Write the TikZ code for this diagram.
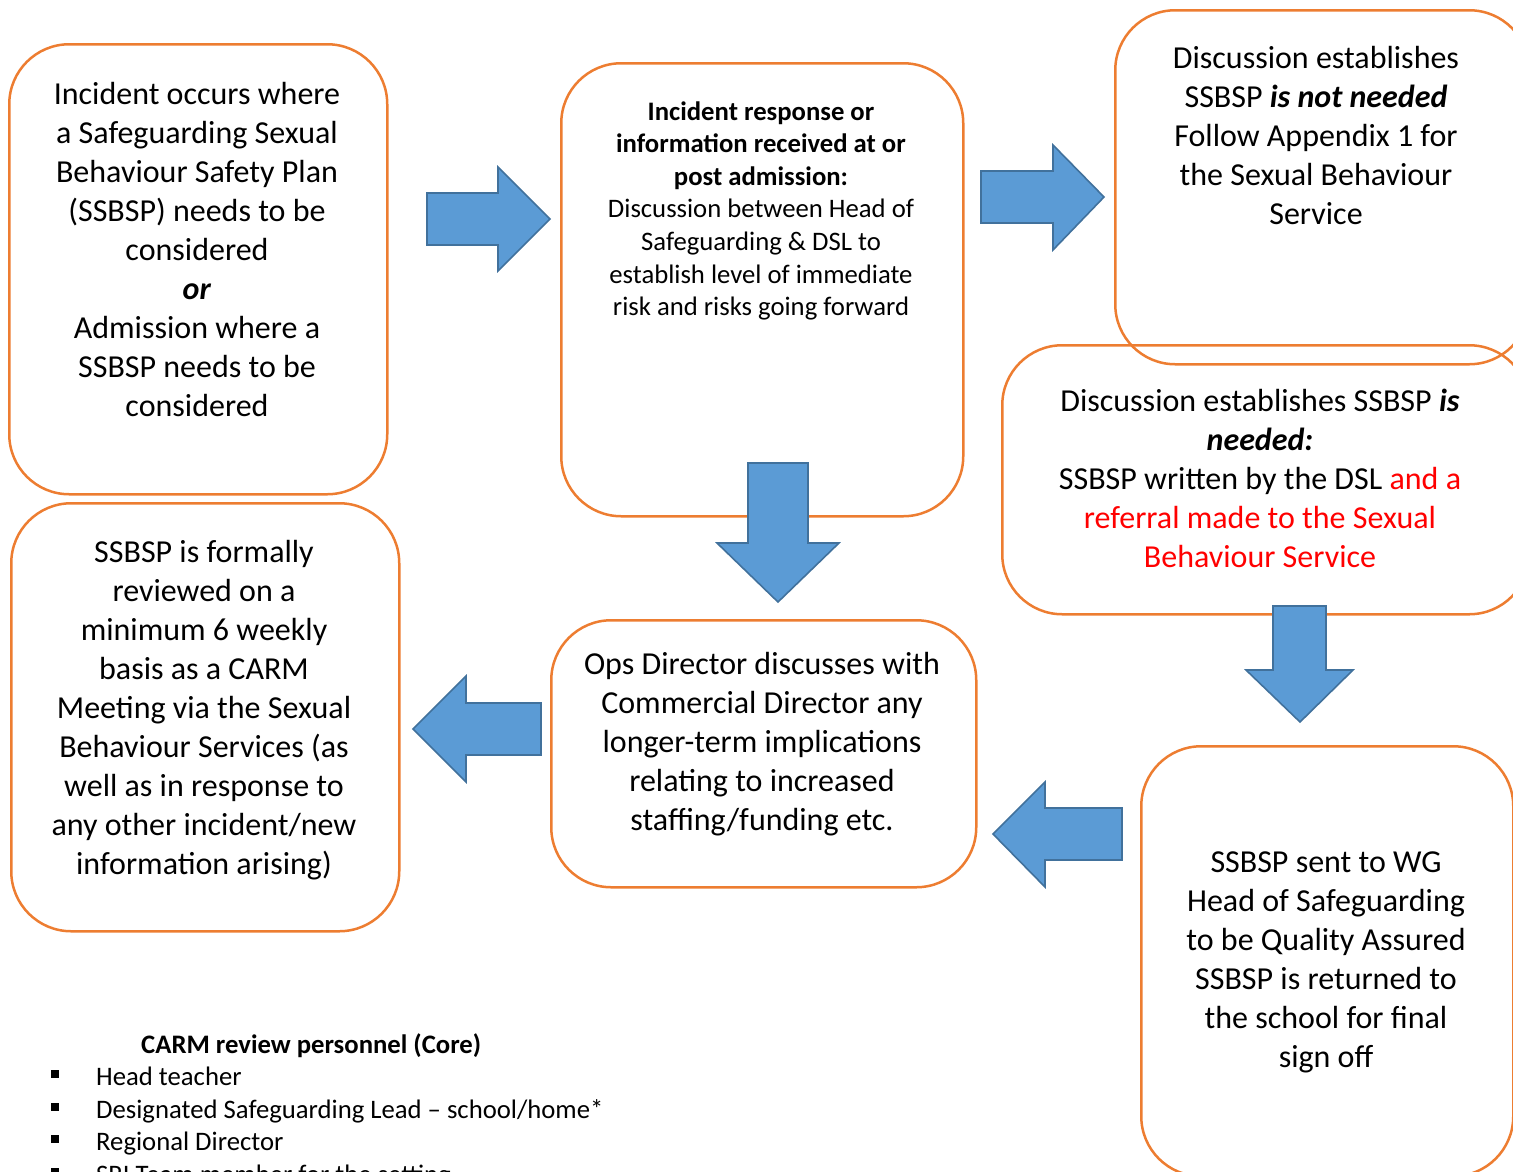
\documentclass[tikz,border=0pt]{standalone}
\usepackage{fontspec}
\setmainfont{Carlito}
\usetikzlibrary{positioning}

\definecolor{stageorange}{HTML}{ED7D31}
\definecolor{flowfill}{HTML}{5B9BD5}
\definecolor{flowline}{HTML}{41719C}

\tikzset{
  stage/.style={draw=stageorange, line width=2.5pt, rounded corners=60pt,
                inner sep=0pt, anchor=north west},
  bigtext/.style={align=center, inner sep=0pt, anchor=north,
                  font=\fontsize{32}{39}\selectfont, execute at begin node=\strut},
  smalltext/.style={align=center, inner sep=0pt, anchor=north,
                    font=\fontsize{26.7}{32.6}\selectfont, execute at begin node=\strut},
  flowarrow/.style={draw=flowline, fill=flowfill, line width=1.6pt, line join=miter},
}

\begin{document}
\begin{tikzpicture}[x=1pt, y=-1pt]
  \useasboundingbox (0,0) rectangle (1513,1171);

  % stages
  \node[stage, minimum width=378, minimum height=450] (incident) at (8,43) {};
  \node[stage, minimum width=402, minimum height=453] (response) at (560,62) {};
  \node[stage, minimum width=414, minimum height=354] (notneeded) at (1114,9) {};
  \node[stage, minimum width=527, minimum height=269] (needed) at (1001,344) {};
  \node[stage, minimum width=388, minimum height=428] (review) at (10,502) {};
  \node[stage, minimum width=425, minimum height=267] (opsdir) at (550,619) {};
  \node[stage, minimum width=372, minimum height=430] (signoff) at (1140,745) {};

  % texts
  \node[bigtext] (incidenttext) at (197,81.7) {Incident occurs where\\
    a Safeguarding Sexual\\ Behaviour Safety Plan\\ (SSBSP) needs to be\\
    considered\\ \textbf{\textit{or}}\\ Admission where a\\ SSBSP needs to be\\ considered};
  \node[smalltext] (responsetext) at (761,101.2) {\textbf{Incident response or}\\
    \textbf{information received at or}\\ \textbf{post admission:}\\
    Discussion between Head of\\ Safeguarding \& DSL to\\
    establish level of immediate\\ risk and risks going forward};
  \node[bigtext] (notneededtext) at (1316,46.2) {Discussion establishes\\
    SSBSP \textbf{\textit{is not needed}}\\ Follow Appendix 1 for\\
    the Sexual Behaviour\\ Service};
  \node[bigtext] (neededtext) at (1260,389.2) {Discussion establishes SSBSP \textbf{\textit{is}}\\
    \textbf{\textit{needed:}}\\ SSBSP written by the DSL \textcolor{red}{and a}\\
    \textcolor{red}{referral made to the Sexual}\\ \textcolor{red}{Behaviour Service}};
  \node[bigtext] (reviewtext) at (204,540.2) {SSBSP is formally\\ reviewed on a\\
    minimum 6 weekly\\ basis as a CARM\\ Meeting via the Sexual\\
    Behaviour Services (as\\ well as in response to\\ any other incident/new\\
    information arising)};
  \node[bigtext] (opsdirtext) at (762,652.2) {Ops Director discusses with\\
    Commercial Director any\\ longer-term implications\\ relating to increased\\
    staffing/funding etc.};
  \node[bigtext] (signofftext) at (1326,851.7) {SSBSP sent to WG\\
    Head of Safeguarding\\ to be Quality Assured\\ SSBSP is returned to\\
    the school for final\\ sign off};

  % block arrows
  \draw[flowarrow] (427,193) -- (498,193) -- (498,167) -- (550,219)
    -- (498,271) -- (498,245) -- (427,245) -- cycle;
  \draw[flowarrow] (981,171) -- (1053,171) -- (1053,145) -- (1104,197)
    -- (1053,250) -- (1053,223) -- (981,223) -- cycle;
  \draw[flowarrow] (748,463) -- (748,543) -- (717,543) -- (778,602)
    -- (839,543) -- (808,543) -- (808,463) -- cycle;
  \draw[flowarrow] (1273,606) -- (1273,670) -- (1246,670) -- (1300,722)
    -- (1353,670) -- (1326,670) -- (1326,606) -- cycle;
  \draw[flowarrow] (541,703) -- (466,703) -- (466,676) -- (413,729)
    -- (466,782) -- (466,755) -- (541,755) -- cycle;
  \draw[flowarrow] (1122,808) -- (1045,808) -- (1045,782) -- (993,834)
    -- (1045,887) -- (1045,860) -- (1122,860) -- cycle;

  % CARM list
  \node[smalltext, anchor=north west, align=left] (carmtitle) at (141,1030.2)
    {\textbf{CARM review personnel (Core)}};
  \node[smalltext, anchor=north west, align=left] (carmlist) at (96,1066.7)
    {Head teacher\\ Designated Safeguarding Lead -- school/home*\\
     Regional Director\\ SRI Team member for the setting};
  \foreach \i in {0,...,3}
    \fill (51,1070+32.6*\i) rectangle ++(8,8);
\end{tikzpicture}
\end{document}
